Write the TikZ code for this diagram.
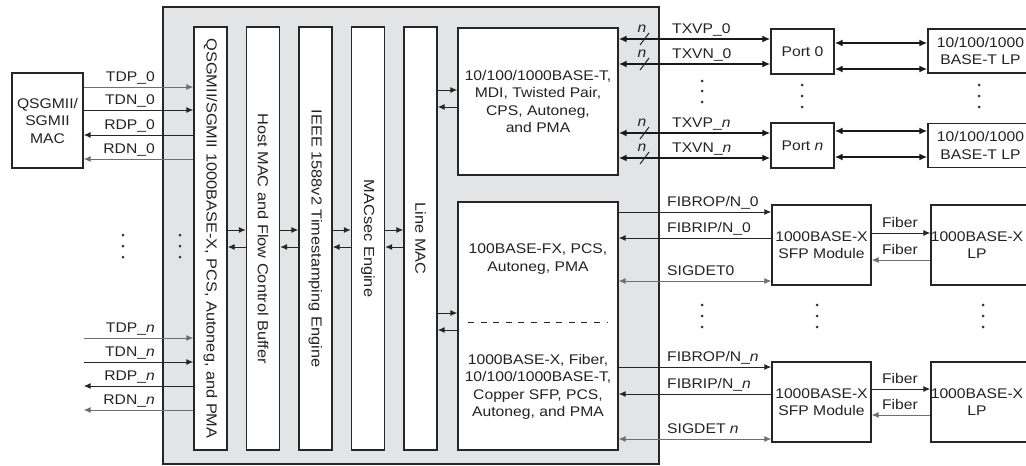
\documentclass[tikz,border=0pt]{standalone}
\usepackage{fontspec}
\setmainfont{Liberation Sans}[FakeStretch=1.12]
\usetikzlibrary{arrows.meta}
\definecolor{chipfill}{RGB}{227,228,230}
\definecolor{txt}{RGB}{35,35,35}
\definecolor{glin}{RGB}{110,110,110}
\begin{document}
\begin{tikzpicture}[x=1pt,y=-1pt,
  font=\fontsize{14}{17.5}\selectfont, text=txt,
  >={Latex[length=7pt,width=6pt]},
  blk/.style={draw=black!85, line width=1.4pt, fill=white, inner sep=0pt, align=center},
  colbox/.style={blk, minimum width=33pt, minimum height=423pt},
  lbl/.style={inner sep=0pt},
  vlbl/.style={inner sep=0pt, rotate=-90, font=\fontsize{14.6}{17}\selectfont},
  sig/.style={line width=1pt, draw=black!85},
  gsig/.style={line width=1pt, draw=glin},
  bus/.style={line width=2.2pt, draw=black!90, {Latex[length=8pt,width=7pt]}-{Latex[length=8pt,width=7pt]}},
  dotc/.style={fill=black!80}
]
\useasboundingbox (0,0) rectangle (1026,466);
\clip (0,0) rectangle (1026,466);

% y levels
\foreach \n/\y in {l1/87,l2/110,l3/135,l4/159,l5/338,l6/362,l7/386,l8/410,
  yR/230,yL/247,yA/90,yB/107,yC/313,yD/330,
  r1/39,r2/64,r3/133,r4/158,q1/43,q2/69,q3/131,q4/157,
  g1/212,g2/238,g3/281,g4/367,g5/394,g6/439,
  f1/233,f2/260,f3/389,f4/415}
  {\coordinate (\n) at (0,\y);}

% chip
\node[blk, line width=2.2pt, fill=chipfill, minimum width=496pt, minimum height=457pt] (chip) at (411,235.5) {};

% MAC
\node[blk, minimum width=71pt, minimum height=95pt] (mac) at (47.5,120.5) {QSGMII/\\SGMII\\MAC};

% columns
\node[colbox] (c1) at (210.5,238.5) {};
\node[colbox] (c2) at (263,238.5) {};
\node[colbox] (c3) at (315.5,238.5) {};
\node[colbox] (c4) at (368,238.5) {};
\node[colbox] (c5) at (420.5,238.5) {};
\node[vlbl] (t1) at (c1.center) {QSGMII/SGMII 1000BASE-X, PCS, Autoneg, and PMA};
\node[vlbl] (t2) at (c2.center) {Host MAC and Flow Control Buffer};
\node[vlbl] (t3) at (c3.center) {IEEE 1588v2 Timestamping Engine};
\node[vlbl] (t4) at (c4.center) {MACsec Engine};
\node[vlbl] (t5) at (c5.center) {Line MAC};

% PHY boxes
\node[blk, minimum width=160pt, minimum height=147pt] (tb) at (538,101.5) {10/100/1000BASE-T,\\MDI, Twisted Pair,\\CPS, Autoneg,\\and PMA};
\node[blk, minimum width=160pt, minimum height=248pt] (bb) at (538,326) {};
\node[lbl, align=center] (bbt1) at (538,259) {100BASE-FX, PCS,\\Autoneg, PMA};
\node[lbl, align=center] (bbt2) at (538,387) {1000BASE-X, Fiber,\\10/100/1000BASE-T,\\Copper SFP, PCS,\\Autoneg, and PMA};
\draw[line width=1pt, draw=black!85, dash pattern=on 6pt off 6.6pt] (468,322) -- (607,322);

% inter-column arrows
\foreach \a/\b in {c1/c2,c2/c3,c3/c4,c4/c5}{
  \draw[sig,->] (\a.east |- yR) -- (\b.west |- yR);
  \draw[sig,->] (\b.west |- yL) -- (\a.east |- yL);
}
\draw[sig,->] (c5.east |- yA) -- (tb.west |- yA);
\draw[sig,->] (tb.west |- yB) -- (c5.east |- yB);
\draw[sig,->] (c5.east |- yC) -- (bb.west |- yC);
\draw[sig,->] (bb.west |- yD) -- (c5.east |- yD);

% left signals
\draw[gsig,->] (mac.east |- l1) -- (c1.west |- l1);
\draw[sig,->] (mac.east |- l2) -- (c1.west |- l2);
\draw[sig,->] (c1.west |- l3) -- (mac.east |- l3);
\draw[gsig,->] (c1.west |- l4) -- (mac.east |- l4);
\draw[gsig,->] (mac.east |- l5) -- (c1.west |- l5);
\draw[sig,->] (mac.east |- l6) -- (c1.west |- l6);
\draw[sig,->] (c1.west |- l7) -- (mac.east |- l7);
\draw[gsig,->] (c1.west |- l8) -- (mac.east |- l8);
\node[lbl, anchor=base east] (lb1) at (155,81) {TDP\_0};
\node[lbl, anchor=base east] (lb2) at (155,104) {TDN\_0};
\node[lbl, anchor=base east] (lb3) at (155,129) {RDP\_0};
\node[lbl, anchor=base east] (lb4) at (155,153) {RDN\_0};
\node[lbl, anchor=base east] (lb5) at (155,332) {TDP\_\textit{n}};
\node[lbl, anchor=base east] (lb6) at (155,356) {TDN\_\textit{n}};
\node[lbl, anchor=base east] (lb7) at (155,380) {RDP\_\textit{n}};
\node[lbl, anchor=base east] (lb8) at (155,404) {RDN\_\textit{n}};

% ports and link partners (copper)
\node[blk, minimum width=63pt, minimum height=45pt] (p0) at (802.5,51.5) {Port 0};
\node[blk, minimum width=63pt, minimum height=45pt] (pn) at (802.5,145.5) {Port \textit{n}};
\node[blk, minimum width=105pt, minimum height=44pt] (lt0) at (980.5,51) {10/100/1000\\BASE-T LP};
\node[blk, minimum width=105pt, minimum height=44pt] (ltn) at (980.5,145.5) {10/100/1000\\BASE-T LP};

\draw[bus] (tb.east |- r1) -- (p0.west |- r1);
\draw[bus] (tb.east |- r2) -- (p0.west |- r2);
\draw[bus] (tb.east |- r3) -- (pn.west |- r3);
\draw[bus] (tb.east |- r4) -- (pn.west |- r4);
\foreach \y in {39,64,133,158}{
  \draw[line width=1pt, draw=black!85] (640,\y+6) -- (649,\y-6);
  \node[lbl] at (642,\y-10) {\textit{n}};
}
\node[lbl, anchor=base west] (tx1) at (672,33) {TXVP\_0};
\node[lbl, anchor=base west] (tx2) at (672,58) {TXVN\_0};
\node[lbl, anchor=base west] (tx3) at (672,127) {TXVP\_\textit{n}};
\node[lbl, anchor=base west] (tx4) at (672,152) {TXVN\_\textit{n}};
\draw[bus] (p0.east |- q1) -- (lt0.west |- q1);
\draw[bus] (p0.east |- q2) -- (lt0.west |- q2);
\draw[bus] (pn.east |- q3) -- (ltn.west |- q3);
\draw[bus] (pn.east |- q4) -- (ltn.west |- q4);

% SFP and fiber LPs
\node[blk, minimum width=99pt, minimum height=80pt] (s0) at (821.5,245) {1000BASE-X\\SFP Module};
\node[blk, minimum width=99pt, minimum height=80pt] (sn) at (821.5,402) {1000BASE-X\\SFP Module};
\node[blk, minimum width=102pt, minimum height=80pt] (lx0) at (982,245) {};
\node[blk, minimum width=102pt, minimum height=80pt] (lxn) at (982,402) {};
\node[lbl, align=center] (lx0t) at (977,245) {1000BASE-X\\LP};
\node[lbl, align=center] (lxnt) at (977,402) {1000BASE-X\\LP};

\draw[sig,->] (s0.east |- f1) -- (lx0.west |- f1);
\draw[gsig,->] (lx0.west |- f2) -- (s0.east |- f2);
\draw[sig,->] (sn.east |- f3) -- (lxn.west |- f3);
\draw[gsig,->] (lxn.west |- f4) -- (sn.east |- f4);
\node[lbl, anchor=base] (fb1) at (900,227) {Fiber};
\node[lbl, anchor=base] (fb2) at (900,254) {Fiber};
\node[lbl, anchor=base] (fb3) at (900,383) {Fiber};
\node[lbl, anchor=base] (fb4) at (900,409) {Fiber};

\draw[sig,->] (bb.east |- g1) -- (s0.west |- g1);
\draw[sig,->] (s0.west |- g2) -- (bb.east |- g2);
\draw[gsig,<->] (bb.east |- g3) -- (s0.west |- g3);
\draw[sig,->] (bb.east |- g4) -- (sn.west |- g4);
\draw[sig,->] (sn.west |- g5) -- (bb.east |- g5);
\draw[gsig,<->] (bb.east |- g6) -- (sn.west |- g6);
\node[lbl, anchor=base west] (fo1) at (667,206) {FIBROP/N\_0};
\node[lbl, anchor=base west] (fi1) at (667,232) {FIBRIP/N\_0};
\node[lbl, anchor=base west] (sd1) at (667,275) {SIGDET0};
\node[lbl, anchor=base west] (fo2) at (667,361) {FIBROP/N\_\textit{n}};
\node[lbl, anchor=base west] (fi2) at (667,388) {FIBRIP/N\_\textit{n}};
\node[lbl, anchor=base west] (sd2) at (667,433) {SIGDET \textit{n}};

% ellipsis dots
\foreach \x/\a/\b/\c in {123/235/246/257, 180/235/246/257,
   702/81/91/102, 802/85/96/107, 979/85/96/107,
   702/305/316/327, 817/305/316/327, 983/305/316/327}{
  \fill[dotc] (\x,\a) circle (1.5pt);
  \fill[dotc] (\x,\b) circle (1.5pt);
  \fill[dotc] (\x,\c) circle (1.5pt);
}
\end{tikzpicture}
\end{document}
